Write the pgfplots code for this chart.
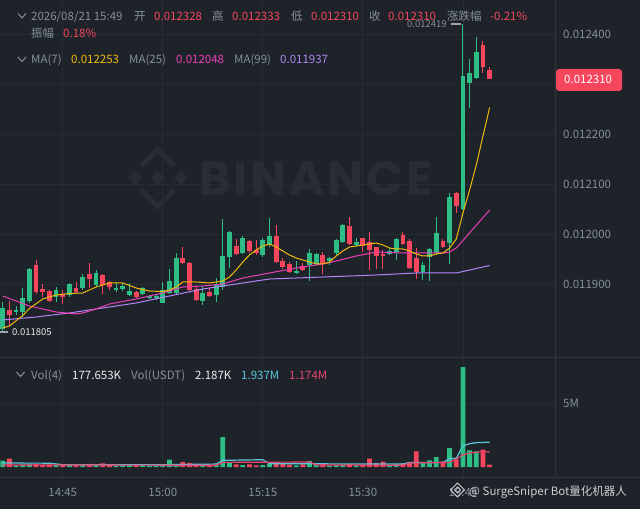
\documentclass[border=0pt]{standalone}
\usepackage{fontspec}
\setmainfont{Noto Sans CJK SC}
\newfontfamily\wmfont{Poppins}[LetterSpace=6]
\usepackage{pgfplots}
\usepackage{pgfplotstable}
\pgfplotsset{compat=1.18}

\definecolor{bg}{HTML}{1E232A}
\definecolor{gridc}{HTML}{272C34}
\definecolor{divc}{HTML}{30363F}
\definecolor{txt}{HTML}{848E9C}
\definecolor{wht}{HTML}{EAECEF}
\definecolor{up}{HTML}{2EBD85}
\definecolor{dn}{HTML}{F6465D}
\definecolor{maA}{HTML}{F0B90B}
\definecolor{maB}{HTML}{EB40B5}
\definecolor{maC}{HTML}{B185F7}
\definecolor{vmaA}{HTML}{5AC8DC}
\definecolor{vmaB}{HTML}{E8436C}
\definecolor{wm}{HTML}{282D35}

% one candle per minute, i=0 is 14:36; prices in 1e-6 USDT
\pgfplotstableread{
i  o     h     l     c
0  11810 11864 11805 11852
2  11844 11856 11838 11848
3  11844 11892 11834 11872
4  11866 11932 11862 11930
8  11874 11894 11864 11888
10 11878 11902 11874 11900
12 11892 11920 11888 11914
14 11898 11928 11894 11922
17 11888 11902 11884 11892
18 11890 11902 11886 11896
19 11878 11902 11876 11886
21 11880 11894 11878 11892
22 11872 11878 11870 11876
23 11872 11878 11868 11876
24 11862 11904 11862 11888
25 11882 11930 11880 11906
26 11882 11962 11880 11952
30 11866 11896 11858 11882
32 11878 11912 11864 11900
33 11894 12030 11888 11956
34 11954 12006 11932 12004
36 11962 11996 11960 11992
39 11958 11992 11954 11988
40 11978 12032 11974 11996
44 11922 11946 11920 11926
46 11938 11970 11906 11962
47 11940 11962 11938 11960
49 11946 11954 11938 11952
50 11962 11990 11958 11988
51 11984 12020 11982 12018
53 11978 11992 11974 11984
58 11960 11972 11958 11966
59 11964 11992 11948 11990
63 11924 11944 11908 11938
64 11954 11972 11906 11970
65 11962 12034 11958 12002
67 11982 12082 11940 12074
69 12050 12419 12048 12316
70 12302 12350 12252 12322
71 12312 12394 12310 12364
}\upcandles

\pgfplotstableread{
i  o     h     l     c
1  11847 11866 11814 11838
5  11938 11948 11880 11884
6  11890 11900 11874 11884
7  11886 11888 11864 11866
9  11880 11888 11860 11874
11 11892 11904 11882 11884
13 11920 11942 11892 11910
15 11918 11920 11880 11898
16 11904 11906 11888 11894
20 11884 11886 11872 11874
27 11952 11974 11940 11942
28 11942 11944 11886 11888
29 11890 11894 11866 11868
31 11884 11892 11874 11876
35 11976 11990 11958 11960
37 11986 11988 11962 11966
38 11968 11988 11958 11962
41 11996 12018 11942 11944
42 11946 11952 11930 11934
43 11940 11944 11922 11924
45 11936 11942 11926 11928
48 11958 11964 11920 11940
52 12016 12034 11978 11980
54 11992 11992 11964 11976
55 11984 12004 11928 11968
56 11974 11974 11930 11956
57 11960 11968 11930 11956
60 11998 12004 11978 11980
61 11986 11990 11930 11932
62 11952 11972 11910 11924
66 11986 11990 11972 11974
68 12082 12084 12042 12056
72 12378 12386 12322 12334
73 12328 12333 12310 12310
}\dncandles

% volume in millions
\pgfplotstableread{
i  v
0  0.49
2  0.12
3  0.20
4  0.26
8  0.14
10 0.20
12 0.18
14 0.15
17 0.10
18 0.12
19 0.15
21 0.16
22 0.09
23 0.10
24 0.18
25 0.57
26 0.22
30 0.22
32 0.20
33 2.34
34 0.30
36 0.15
39 0.14
40 0.24
44 0.12
46 0.45
47 0.15
49 0.10
50 0.15
51 0.20
53 0.12
58 0.12
59 0.20
63 0.31
64 0.52
65 0.78
67 1.48
69 7.80
70 1.30
71 1.22
}\upvol

\pgfplotstableread{
i  v
1  0.65
5  0.22
6  0.15
7  0.18
9  0.16
11 0.12
13 0.25
15 0.28
16 0.14
20 0.13
27 0.38
28 0.30
29 0.20
31 0.18
35 0.20
37 0.20
38 0.12
41 0.28
42 0.22
43 0.18
45 0.20
48 0.25
52 0.22
54 0.15
55 0.65
56 0.30
57 0.42
60 0.28
61 0.35
62 1.22
66 0.44
68 0.60
72 1.35
73 0.18
}\dnvol

\newcommand\fs{\fontsize{11.5}{13}\selectfont}
\newcommand\fss{\fontsize{9.5}{11}\selectfont}

\pgfplotsset{
  chart/.style={
    scale only axis, width=555pt,
    xmin=-0.405, xmax=82.8,
    scaled ticks=false,
    axis line style={draw=none},
    tick style={draw=none}, major tick length=0pt,
    xtick={9,24,39,54,69},
    grid=major, major grid style={draw=gridc, line width=0.8pt},
    ticklabel style={font=\fs, text=txt},
    yticklabel pos=right,
    yticklabel style={anchor=west, inner sep=0pt, xshift=8pt},
  },
  wick/.style={mark=none, draw=none, forget plot,
    error bars/.cd, y dir=plus, y explicit, error mark=none,
    error bar style={draw=#1, line width=1pt}},
  body/.style={mark=none, draw=none, forget plot,
    error bars/.cd, y dir=plus, y explicit, error mark=none,
    error bar style={draw=#1, line width=4.8pt, line cap=butt}},
}

\begin{document}
\begin{tikzpicture}[x=1pt, y=1pt]
\fill[bg] (0,0) rectangle (640,509);

% BINANCE watermark
\begin{scope}[fill=wm, draw=wm]
  \fill (157.7,338) -- (164.7,331) -- (157.7,324) -- (150.7,331) -- cycle;
  \fill (135,338) -- (142,331) -- (135,324) -- (128,331) -- cycle;
  \fill (181,338) -- (188,331) -- (181,324) -- (174,331) -- cycle;
  \draw[line width=5pt] (141,343) -- (157.7,359.5) -- (174.4,343);
  \draw[line width=5pt] (141,319) -- (157.7,302.5) -- (174.4,319);
\end{scope}
\node[anchor=west, inner sep=0pt, text=wm, font=\wmfont\bfseries\fontsize{48}{48}\selectfont] at (199,330.5) {BINANCE};

% price pane
\begin{axis}[chart,
  at={(0pt,152pt)}, anchor=south west, height=357pt,
  ymin=11754, ymax=12468,
  xticklabels={},
  ytick={11900,12000,12100,12200,12300,12400},
  yticklabels={0.011900,0.012000,0.012100,0.012200,,0.012400},
]
\addplot[wick=up] table[x=i, y=l, y error expr=\thisrow{h}-\thisrow{l}] {\upcandles};
\addplot[body=up] table[x=i, y=o, y error expr={max(\thisrow{c}-\thisrow{o},2)}] {\upcandles};
\addplot[wick=dn] table[x=i, y=l, y error expr=\thisrow{h}-\thisrow{l}] {\dncandles};
\addplot[body=dn] table[x=i, y=c, y error expr={max(\thisrow{o}-\thisrow{c},2)}] {\dncandles};

% MA(99)
\addplot[maC, line width=1pt] coordinates {
(0,11828)(5,11834)(10,11842)(15,11852)(20,11862)(25,11876)(30,11890)
(35,11900)(40,11910)(48,11914)(56,11918)(62,11922)(68,11922)(73,11937)};
% MA(25)
\addplot[maB, line width=1pt] coordinates {
(0,11876)(4,11856)(8,11844)(11,11840)(12,11842)(14,11850)(16,11860)
(20,11870)(24,11882)(27,11894)(30,11896)(33,11900)(36,11912)(40,11922)
(44,11932)(48,11940)(50,11946)(53,11956)(56,11964)(60,11962)(63,11962)
(66,11962)(67,11964)(68,11972)(73,12048)};
% MA(7)
\addplot[maA, line width=1pt] coordinates {
(0,11812)(1,11816)(3,11837)(4,11851)(6,11870)(8,11878)(10,11881)(12,11882)
(14,11894)(16,11902)(18,11902)(20,11892)(22,11886)(24,11885)(25,11888)
(26,11894)(27,11904)(29,11904)(31,11902)(33,11906)(34,11914)(35,11928)
(36,11944)(37,11958)(38,11968)(39,11976)(40,11980)(41,11974)(42,11966)
(43,11958)(44,11952)(45,11948)(46,11944)(47,11940)(48,11940)(49,11944)
(50,11956)(51,11966)(52,11974)(53,11976)(54,11978)(55,11980)(56,11982)
(57,11978)(58,11972)(59,11970)(60,11970)(61,11966)(62,11960)(63,11956)
(64,11956)(65,11960)(66,11962)(67,11972)(68,11990)(69,12042)(70,12088)
(71,12138)(72,12196)(73,12253)};
\end{axis}

% volume pane
\begin{axis}[chart,
  at={(0pt,32pt)}, anchor=south west, height=120pt,
  ymin=-0.78, ymax=8.59,
  ytick={5}, yticklabels={5M},
  xticklabels={14:45,15:00,15:15,15:30,15:45},
  xticklabel style={anchor=north, inner sep=0pt, yshift=-11pt},
]
\addplot[ybar, bar width=4.8pt, bar shift=0pt, fill=up, draw=none] table[x=i, y=v] {\upvol};
\addplot[ybar, bar width=4.8pt, bar shift=0pt, fill=dn, draw=none] table[x=i, y=v] {\dnvol};
\addplot[vmaA, line width=1.2pt] coordinates {
(0,0.31)(7,0.30)(9,0.18)(24,0.18)(32,0.23)(33,0.52)(39,0.57)(40,0.26)
(60,0.23)(61,0.36)(66,0.36)(67,0.65)(68,0.68)(69,1.66)(70,1.82)(71,1.90)(73,1.94)};
\addplot[vmaB, line width=1.2pt] coordinates {
(0,0.16)(32,0.14)(33,0.36)(46,0.39)(47,0.16)(60,0.14)(61,0.31)(67,0.36)
(68,0.62)(69,0.96)(70,1.09)(72,1.20)(73,1.17)};
\end{axis}

% dividers
\draw[divc, line width=0.8pt] (0,152) -- (640,152);
\draw[divc, line width=0.8pt] (0,32) -- (640,32);
\draw[divc, line width=0.8pt] (555,32) -- (555,509);

% last price tag
\fill[dn, rounded corners=3pt] (556,418) rectangle (622,440);
\node[anchor=base west, inner sep=0pt, text=white, font=\fs] at (564,425) {0.012310};

% high / low markers
\draw[txt!80!white, line width=1.2pt] (451,485) -- (461,485);
\node[anchor=base west, inner sep=0pt, text=txt, font=\fss] at (407,481.5) {0.012419};
\draw[txt!80!white, line width=1.5pt] (0,177) -- (8,177);
\node[anchor=base west, inner sep=0pt, text=wht, font=\fss] at (12,173.5) {0.011805};

% header rows
\begin{scope}[every node/.style={anchor=base west, inner sep=0pt, font=\fs}]
\draw[txt, line width=1pt] (18,495.5) -- (22,491) -- (26,495.5);
\node[text=txt] at (31,488.5) {2026/08/21 15:49};
\node[text=txt] at (134,488.5) {开};
\node[text=dn]  at (154,488.5) {0.012328};
\node[text=txt] at (212,488.5) {高};
\node[text=dn]  at (232,488.5) {0.012333};
\node[text=txt] at (291,488.5) {低};
\node[text=dn]  at (311,488.5) {0.012310};
\node[text=txt] at (369,488.5) {收};
\node[text=dn]  at (388,488.5) {0.012310};
\node[text=txt] at (447,488.5) {涨跌幅};
\node[text=dn]  at (490,488.5) {-0.21\%};
\node[text=txt] at (31,471.5) {振幅};
\node[text=dn]  at (63,471.5) {0.18\%};

\draw[txt, line width=1pt] (18,452) -- (22,447.5) -- (26,452);
\node[text=txt] at (31,445.5) {MA(7)};
\node[text=maA] at (71,445.5) {0.012253};
\node[text=txt] at (129,445.5) {MA(25)};
\node[text=maB] at (176,445.5) {0.012048};
\node[text=txt] at (234,445.5) {MA(99)};
\node[text=maC] at (280,445.5) {0.011937};

\draw[txt, line width=1pt] (16.5,137) -- (20.5,132.5) -- (24.5,137);
\node[text=txt]  at (31,129.5) {Vol(4)};
\node[text=wht]  at (72,129.5) {177.653K};
\node[text=txt]  at (131,129.5) {Vol(USDT)};
\node[text=wht]  at (195,129.5) {2.187K};
\node[text=vmaA] at (241,129.5) {1.937M};
\node[text=vmaB] at (289,129.5) {1.174M};
\end{scope}

% bottom-right watermark
\begin{scope}[draw=wht!85!bg, line width=1pt]
  \draw (457.5,26) -- (464.5,19) -- (457.5,12) -- (450.5,19) -- cycle;
  \draw (457.5,22) -- (460.5,19) -- (457.5,16) -- (454.5,19) -- cycle;
\end{scope}
\node[anchor=base west, inner sep=0pt, text=wht!85!bg, font=\fs] at (469,13.5) {@ SurgeSniper Bot量化机器人};

\pgfresetboundingbox
\useasboundingbox (0,0) rectangle (640,509);
\end{tikzpicture}
\end{document}
